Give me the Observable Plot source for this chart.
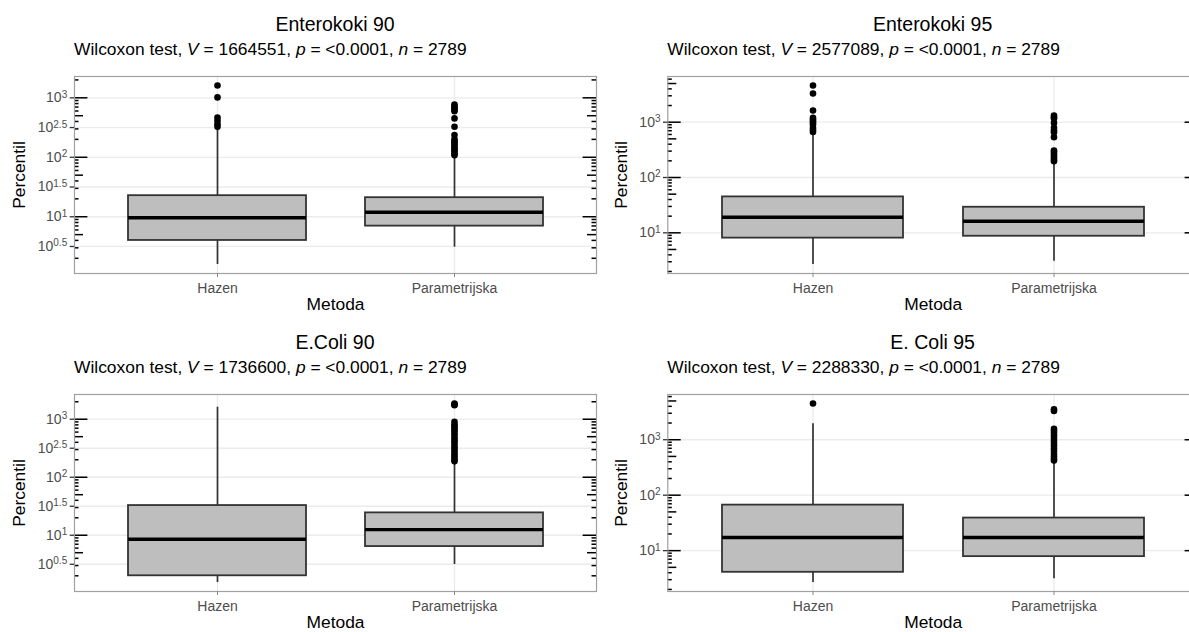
<!DOCTYPE html>
<html><head><meta charset="utf-8">
<script src="https://cdn.jsdelivr.net/npm/d3@7"></script>
<script src="https://cdn.jsdelivr.net/npm/@observablehq/plot@0.6"></script>
<style>
body{margin:0;background:#fff;font-family:"Liberation Sans",Arial,sans-serif;}
#root{position:relative;width:1189px;height:632px;overflow:hidden;background:#fff;}
.title{position:absolute;font-size:19.5px;line-height:1;color:#000;white-space:nowrap;transform:translateX(-50%);}
.subtitle{position:absolute;font-size:17.4px;line-height:1;color:#000;white-space:nowrap;}
</style></head><body><div id="root"></div>
<script>
// ---------- data ----------
const methods = ["Hazen", "Parametrijska"];
const panelTitles = ["Enterokoki 90", "Enterokoki 95", "E.Coli 90", "E. Coli 95"];
const statV = [1664551, 2577089, 1736600, 2288330];
const statP = ["<0.0001", "<0.0001", "<0.0001", "<0.0001"];
const statN = [2789, 2789, 2789, 2789];
// tick label exponents (10^x)
const expsHalf = ["0.5", "1", "1.5", "2", "2.5", "3"];
const expsDecade = ["1", "2", "3"];
// box stats: [lower whisker, Q1, median, Q3, upper whisker]
const ent90HazenBox = [1.57, 3.99, 9.62, 22.6, 297];
const ent90HazenOut = [1614, 1016, 466, 410, 361, 325];
const ent90ParamBox = [3.08, 6.95, 11.9, 20.9, 104];
const ent90ParamOut = [774, 708, 679, 631, 597, 451, 326, 236, 200, 187, 176, 165, 151, 141, 132, 124, 115, 108];

const ent95HazenBox = [2.67, 8.02, 19.1, 44.6, 582];
const ent95HazenOut = [4613, 3304, 1622, 1197, 1122, 1042, 977, 908, 789, 724, 668];
const ent95ParamBox = [3.06, 8.67, 16.2, 29.0, 184];
const ent95ParamOut = [1321, 1230, 1167, 971, 794, 708, 661, 536, 308, 288, 267, 245, 226, 209, 197];

const eco90HazenBox = [1.53, 2.0, 8.53, 32.5, 1611];
const eco90HazenOut = [];
const eco90ParamBox = [3.13, 6.38, 12.5, 24.3, 182];
const eco90ParamOut = [1870, 1800, 1740, 905, 810, 760, 690, 640, 575, 520, 470, 430, 395, 350, 320, 290, 262, 240, 220, 200, 188];

const eco95HazenBox = [2.66, 4.07, 17.3, 66.2, 1941];
const eco95HazenOut = [4508];
const eco95ParamBox = [3.10, 7.8, 17.3, 38.7, 386];
const eco95ParamOut = [3550, 3300, 1580, 1450, 1330, 1200, 1080, 980, 880, 790, 700, 630, 560, 500, 455, 420];

// ---------- drawing ----------
const root = document.getElementById("root");
const FONT = '"Liberation Sans", Arial, sans-serif';
const NS = "http://www.w3.org/2000/svg";

function drawPanel(idx, boxes, outs, exps, geo) {
  const {left, top, width, ml, labelDx} = geo;
  const mr = 9, mt = 6, mb = 41, height = 244;
  const innerW = width - ml - mr;
  const rows = methods.map((m, i) => ({method: m, lw: boxes[i][0], q1: boxes[i][1], med: boxes[i][2], q3: boxes[i][3], uw: boxes[i][4]}));
  const pts = methods.flatMap((m, i) => outs[i].map(v => ({method: m, value: v})));
  const logs = [...boxes.flat(), ...outs.flat()].map(Math.log10);
  const lo = d3.min(logs), hi = d3.max(logs), pad = (hi - lo) * 0.05;
  const domain = [10 ** (lo - pad), 10 ** (hi + pad)];
  const tickRows = exps.map(s => ({v: 10 ** (+s), label: "10^" + s}));
  const ticks = tickRows.map(t => t.v);
  const lt = [];
  for (let k = Math.floor(lo - pad); k <= Math.ceil(hi + pad); k++)
    for (let m = 1; m <= 9; m++) {
      const v = m * 10 ** k;
      if (v >= domain[0] && v <= domain[1]) lt.push({v, kind: m === 1 ? "L" : m === 5 ? "M" : "S"});
    }
  const lens = {L: 13.4, M: 9, S: 4.5};
  const logTickMarks = [];
  for (const kind of ["L", "M", "S"]) {
    const d = lt.filter(t => t.kind === kind);
    logTickMarks.push(Plot.tickY(d, {y: "v", insetRight: innerW - lens[kind], stroke: "#000", strokeWidth: 1.5}));
    logTickMarks.push(Plot.tickY(d, {y: "v", insetLeft: innerW - lens[kind], stroke: "#000", strokeWidth: 1.5}));
  }
  const svg = Plot.plot({
    width, height, marginLeft: ml, marginRight: mr, marginTop: mt, marginBottom: mb,
    style: {fontFamily: FONT, background: "transparent", color: "#4D4D4D", overflow: "visible"},
    x: {type: "band", domain: methods, paddingInner: 0.25, paddingOuter: 0.225, axis: null},
    y: {type: "log", domain, axis: null},
    marks: [
      Plot.gridY(ticks, {stroke: "#EBEBEB", strokeOpacity: 1, strokeWidth: 1.3}),
      Plot.gridX(methods, {stroke: "#EBEBEB", strokeOpacity: 1, strokeWidth: 1.3}),
      Plot.ruleX(rows, {x: "method", y1: "lw", y2: "q1", stroke: "#333", strokeWidth: 1.7}),
      Plot.ruleX(rows, {x: "method", y1: "q3", y2: "uw", stroke: "#333", strokeWidth: 1.7}),
      Plot.barY(rows, {x: "method", y1: "q1", y2: "q3", fill: "#BEBEBE", stroke: "#333", strokeWidth: 1.8}),
      Plot.tickY(rows, {x: "method", y: "med", stroke: "#000", strokeWidth: 3.4}),
      Plot.dot(pts, {x: "method", y: "value", r: 3.3, fill: "#000", stroke: null}),
      ...logTickMarks,
      Plot.frame({stroke: "#A0A0A0", strokeWidth: 1.2}),
      Plot.axisY(ticks, {anchor: "left", tickSize: 4.3, stroke: "#333", strokeWidth: 1.3, text: null, label: null}),
      Plot.text(tickRows, {y: "v", text: "label", frameAnchor: "left", textAnchor: "end", lineAnchor: "middle", dx: -7.3, fontSize: 14, fill: "#4D4D4D"}),
      Plot.axisX({tickSize: 4, tickPadding: 6, fontSize: 14, fill: "#4D4D4D", stroke: "#888", label: null}),
      Plot.text(["Metoda"], {text: d => d, frameAnchor: "bottom", textAnchor: "middle", lineAnchor: "middle", dy: 31, fontSize: 17.4, fill: "#000"}),
      Plot.text(["Percentil"], {text: d => d, frameAnchor: "left", textAnchor: "middle", lineAnchor: "middle", rotate: -90, dx: labelDx, fontSize: 17.4, fill: "#000"})
    ]
  });
  // superscript exponents in y tick labels
  svg.querySelectorAll("text").forEach(t => {
    const s = t.textContent;
    if (!s.includes("^")) return;
    const parts = s.split("^");
    while (t.firstChild) t.removeChild(t.firstChild);
    const a = document.createElementNS(NS, "tspan"); a.textContent = parts[0];
    const b = document.createElementNS(NS, "tspan"); b.textContent = parts[1];
    b.setAttribute("dy", "-0.45em"); b.setAttribute("font-size", "10px");
    t.appendChild(a); t.appendChild(b);
  });
  svg.style.position = "absolute";
  svg.style.left = left + "px";
  svg.style.top = top + "px";
  root.appendChild(svg);

  const fl = left + ml, fr = left + width - mr;
  const tdiv = document.createElement("div");
  tdiv.className = "title";
  tdiv.textContent = panelTitles[idx];
  tdiv.style.left = ((fl + fr) / 2) + "px";
  tdiv.style.top = (top + mt - 61.5) + "px";
  root.appendChild(tdiv);
  const sdiv = document.createElement("div");
  sdiv.className = "subtitle";
  sdiv.innerHTML = `Wilcoxon test, <i>V</i> = ${statV[idx]}, <i>p</i> = ${statP[idx].replace("<", "&lt;")}, <i>n</i> = ${statN[idx]}`;
  sdiv.style.left = fl + "px";
  sdiv.style.top = (top + mt - 34.7) + "px";
  root.appendChild(sdiv);
}

drawPanel(0, [ent90HazenBox, ent90ParamBox], [ent90HazenOut, ent90ParamOut], expsHalf, {left: 0, top: 70, width: 605, ml: 74, labelDx: -54.7});
drawPanel(1, [ent95HazenBox, ent95ParamBox], [ent95HazenOut, ent95ParamOut], expsDecade, {left: 594, top: 70, width: 613, ml: 73.3, labelDx: -46.6});
drawPanel(2, [eco90HazenBox, eco90ParamBox], [eco90HazenOut, eco90ParamOut], expsHalf, {left: 0, top: 388, width: 605, ml: 74, labelDx: -54.7});
drawPanel(3, [eco95HazenBox, eco95ParamBox], [eco95HazenOut, eco95ParamOut], expsDecade, {left: 594, top: 388, width: 613, ml: 73.3, labelDx: -46.6});
</script></body></html>
